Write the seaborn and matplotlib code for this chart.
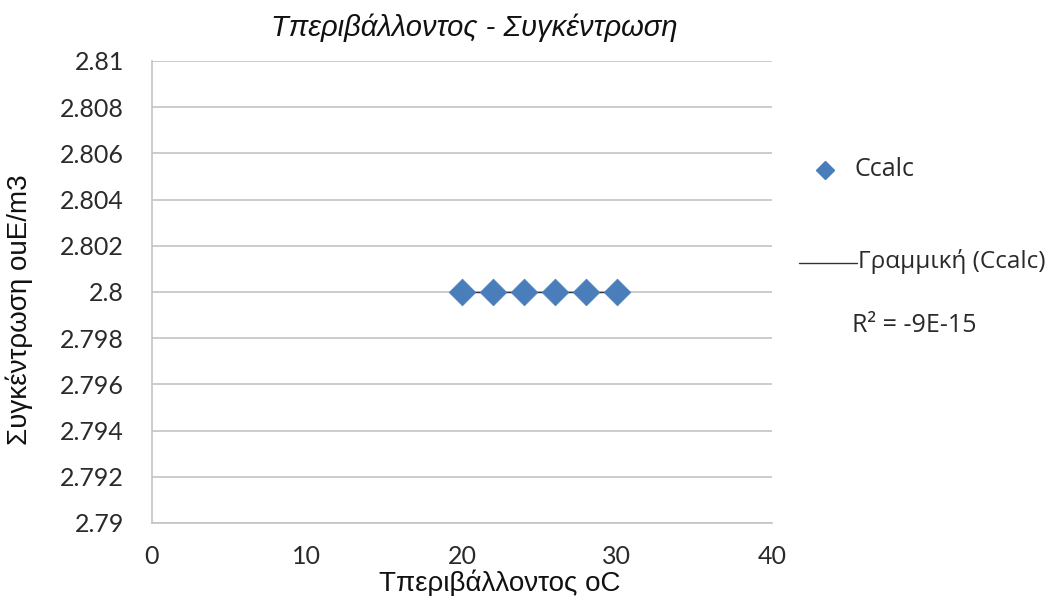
import numpy as np
import pandas as pd
import matplotlib
matplotlib.use("Agg")
import matplotlib.pyplot as plt
from matplotlib.lines import Line2D
import seaborn as sns

# Measurements: ambient temperature (oC) vs calculated concentration (ouE/m3)
temperature = [20, 22, 24, 26, 28, 30]
concentration = [2.8, 2.8, 2.8, 2.8, 2.8, 2.8]
x_ticks = [0, 10, 20, 30, 40]
y_ticks = [2.79, 2.792, 2.794, 2.796, 2.798, 2.8, 2.802, 2.804, 2.806, 2.808, 2.81]
y_tick_labels = ["2.79", "2.792", "2.794", "2.796", "2.798", "2.8",
                 "2.802", "2.804", "2.806", "2.808", "2.81"]
series_name = "Ccalc"
trend_name = "Γραμμική (Ccalc)"
r2_text = "R² = -9E-15"

df = pd.DataFrame({"T": temperature, "C": concentration})

sns.set_theme(style="white")
plt.rcParams["font.family"] = ["Open Sans", "DejaVu Sans"]

fig = plt.figure(figsize=(10.53, 5.96), dpi=100)
ax = fig.add_axes([0.1443, 0.1225, 0.733 - 0.1443, 0.8977 - 0.1225])

marker_color = "#4a7ebb"
grid_color = "#c3c3c3"
text_color = "#2a2a2a"

# Linear trendline over the data range
sns.regplot(data=df, x="T", y="C", ax=ax, scatter=False, ci=None,
            line_kws={"color": "#333333", "lw": 1.0, "zorder": 2})
# Data points as diamonds
sns.scatterplot(data=df, x="T", y="C", ax=ax, marker="D", s=185,
                color=marker_color, edgecolor=marker_color, linewidth=0.5,
                zorder=3, legend=False)

ax.set_xlim(0, 40)
ax.set_ylim(2.79, 2.81)
ax.set_xticks(x_ticks)
ax.set_yticks(y_ticks)
ax.set_yticklabels(y_tick_labels)
ax.set_xlabel("")
ax.set_ylabel("")

ax.yaxis.grid(True, color=grid_color, lw=1.2)
ax.xaxis.grid(False)
for side in ["top", "right"]:
    ax.spines[side].set_visible(False)
for side in ["left", "bottom"]:
    ax.spines[side].set_color(grid_color)
    ax.spines[side].set_linewidth(1.2)

ax.tick_params(axis="both", which="major", direction="out", length=6,
               width=1.2, color=grid_color, labelsize=18, labelcolor=text_color)
ax.tick_params(axis="y", pad=14)
ax.tick_params(axis="x", pad=10)
for lbl in ax.get_xticklabels() + ax.get_yticklabels():
    lbl.set_family(["Lato", "DejaVu Sans"])

# Title and axis titles
fig.text(474 / 1053, 1 - 28 / 596, "Τπεριβάλλοντος - Συγκέντρωση",
         ha="center", va="center", fontsize=21, fontstyle="italic",
         family=["Liberation Sans", "DejaVu Sans"], color="#111111")
fig.text(500 / 1053, 1 - 583 / 596, "Τπεριβάλλοντος oC",
         ha="center", va="center", fontsize=20,
         family=["Liberation Sans", "DejaVu Sans"], color="#111111")
fig.text(19 / 1053, 1 - 310 / 596, "Συγκέντρωση ouE/m3",
         ha="center", va="center", rotation=90, fontsize=20,
         family=["Liberation Sans", "DejaVu Sans"], color="#111111")

# Legend entries
fig.add_artist(Line2D([825 / 1053], [1 - 170 / 596], marker="D", markersize=9,
                      color=marker_color, linestyle="none",
                      transform=fig.transFigure))
fig.text(854 / 1053, 1 - 170 / 596, series_name, ha="left", va="center",
         fontsize=18, color=text_color)
fig.add_artist(Line2D([799 / 1053, 857 / 1053], [1 - 263 / 596, 1 - 263 / 596],
                      color="#333333", lw=1.0, transform=fig.transFigure))
fig.text(858 / 1053, 1 - 262 / 596, trend_name, ha="left", va="center",
         fontsize=17.5, color=text_color)
fig.text(852 / 1053, 1 - 326 / 596, r2_text, ha="left", va="center",
         fontsize=18, color=text_color)

fig.savefig("out.png", dpi=100, facecolor="white")
